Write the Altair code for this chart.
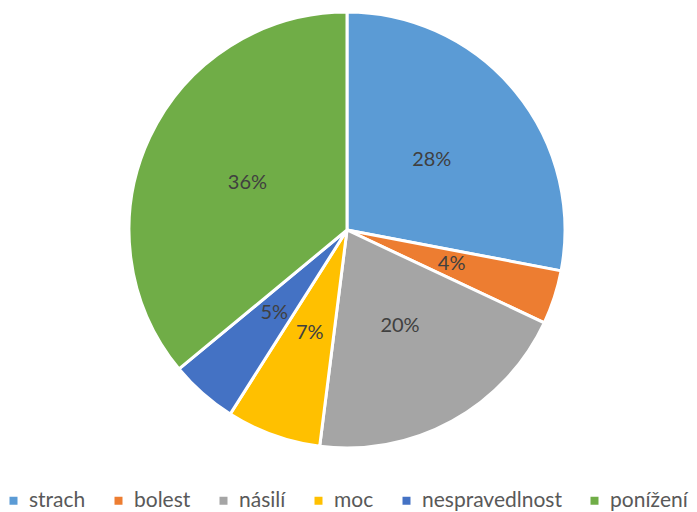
import altair as alt
import pandas as pd

categories = ["strach", "bolest", "násilí", "moc", "nespravedlnost", "ponížení"]
values = [28, 4, 20, 7, 5, 36]
colors = ["#5B9BD5", "#ED7D31", "#A5A5A5", "#FFC000", "#4472C4", "#70AD47"]

df = pd.DataFrame({
    "cat": categories,
    "val": values,
    "order": list(range(len(categories))),
    "label": [f"{v}%" for v in values],
})

base = alt.Chart(df).encode(
    theta=alt.Theta("val:Q", stack=True),
    order=alt.Order("order:Q", sort="ascending"),
)

pie = base.mark_arc(outerRadius=218, stroke="white", strokeWidth=3).encode(
    color=alt.Color(
        "cat:N",
        scale=alt.Scale(domain=categories, range=colors),
        sort=categories,
        legend=alt.Legend(
            title=None,
            orient="none",
            legendX=-5,
            legendY=482,
            direction="horizontal",
            symbolType="square",
            symbolSize=64,
            symbolStrokeWidth=0,
            labelFontSize=21,
            labelFont="Lato",
            labelColor="#595959",
            labelOffset=5,
            columnPadding=22,
            labelLimit=300,
        ),
    )
)

text = base.mark_text(radius=110, fontSize=20, font="Lato", color="#404040").encode(
    text="label:N"
)

chart = (pie + text).properties(
    width=678,
    height=444,
    padding={"left": 0, "top": 0, "right": 3, "bottom": 60},
    autosize=alt.AutoSizeParams(type="none"),
).configure_view(stroke=None)

chart.save("out.html", embed_options={"renderer": "svg", "actions": False})
